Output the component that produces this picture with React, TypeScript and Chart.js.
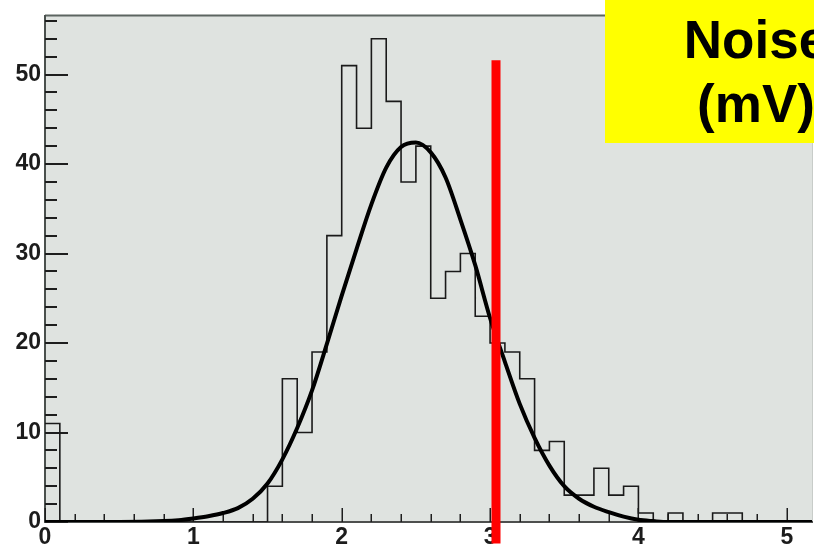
import React, { useEffect, useRef } from "react";
import { Chart, registerables } from "chart.js";

Chart.register(...registerables);

// ---- axis definitions ----
const X_TICKS = [0, 1, 2, 3, 4, 5];
const Y_TICKS = [0, 10, 20, 30, 40, 50];
const X_MIN = 0;
const X_MAX = 5.17;
const Y_MIN = 0;
const Y_MAX = 56.6;
const X_MINOR_STEP = 0.2;
const Y_MINOR_STEP = 2;

// ---- histogram (bin counts, bins of 0.1 mV starting at 0) ----
const HIST_START = 0;
const HIST_BIN_WIDTH = 0.1;
const HIST_COUNTS = [
  11, 0, 0, 0, 0, 0, 0, 0, 0, 0, // 0.0 - 0.9
  0, 0, 0, 0, 0, 4, 16, 10, 19, 32, // 1.0 - 1.9
  51, 44, 54, 47, 38, 42, 25, 28, 30, 23, // 2.0 - 2.9
  20, 19, 16, 8, 9, 3, 3, 6, 3, 4, // 3.0 - 3.9
  1, 0, 1, 0, 0, 1, 1, 0, 0, 0, // 4.0 - 4.9
  0, 0, // 5.0 - 5.1
];

// ---- gaussian fit curve ----
const FIT_X = [
  0, 0.5, 0.8, 0.9, 1.0, 1.1, 1.2, 1.3, 1.4, 1.5, 1.6, 1.7, 1.8, 1.9, 2.0, 2.1, 2.2,
  2.3, 2.4, 2.5, 2.6, 2.7, 2.8, 2.9, 3.0, 3.1, 3.2, 3.3, 3.4, 3.5, 3.6, 3.7, 3.8, 3.9,
  4.0, 4.1, 4.2, 5.17,
];
const FIT_Y = [
  0, 0, 0.1, 0.2, 0.4, 0.65, 1.0, 1.55, 2.6, 4.3, 7.0, 10.5, 14.7, 19.9, 25.3, 30.5, 35.5,
  39.6, 41.9, 42.4, 41.3, 38.5, 33.8, 28.7, 22.8, 17.9, 13.2, 9.4, 6.3, 4.0, 2.6, 1.7, 1.1, 0.6,
  0.25, 0.1, 0, 0,
];

// ---- red cut marker ----
const CUT_VALUE = 3.04;
const CUT_TOP = 51.6;
const CUT_BOTTOM = -2.4;

// ---- note box ----
const NOTE_LINES = ["Noise", "(mV)"];

const FONT_FAMILY = '"Liberation Sans", Arial, Helvetica, sans-serif';

const framePlugin = {
  id: "frame",
  beforeDraw(chart: any) {
    const { ctx, chartArea: a } = chart;
    ctx.save();
    ctx.fillStyle = "#ffffff";
    ctx.fillRect(0, 0, chart.width, chart.height);
    ctx.fillStyle = "#dfe3e0";
    ctx.fillRect(a.left, a.top, a.right - a.left, a.bottom - a.top);
    ctx.strokeStyle = "#5c6561";
    ctx.lineWidth = 2;
    ctx.beginPath();
    ctx.moveTo(a.left, a.top);
    ctx.lineTo(a.right, a.top);
    ctx.stroke();
    ctx.strokeStyle = "#c8ccc9";
    ctx.lineWidth = 1;
    ctx.beginPath();
    ctx.moveTo(a.right + 0.5, a.top);
    ctx.lineTo(a.right + 0.5, a.bottom);
    ctx.stroke();
    ctx.restore();
  },
  beforeDatasetsDraw(chart: any) {
    const { ctx, chartArea: a, scales } = chart;
    const xs = scales.x;
    const ys = scales.y;
    ctx.save();
    ctx.strokeStyle = "#1e1e1e";
    ctx.lineWidth = 2;
    const ny = Math.floor((Y_MAX - Y_MIN) / Y_MINOR_STEP + 1e-6);
    for (let i = 0; i <= ny; i++) {
      const v = Y_MIN + i * Y_MINOR_STEP;
      const major = Y_TICKS.some((t) => Math.abs(t - v) < 1e-6);
      const py = Math.round(ys.getPixelForValue(v));
      ctx.beginPath();
      ctx.moveTo(a.left, py);
      ctx.lineTo(a.left + (major ? 23 : 12), py);
      ctx.stroke();
    }
    ctx.lineWidth = 1.5;
    const nx = Math.floor((X_MAX - X_MIN) / X_MINOR_STEP + 1e-6);
    for (let i = 0; i <= nx; i++) {
      const v = X_MIN + i * X_MINOR_STEP;
      const major = X_TICKS.some((t) => Math.abs(t - v) < 1e-6);
      const px = Math.round(xs.getPixelForValue(v)) + 0.25;
      ctx.beginPath();
      ctx.moveTo(px, a.bottom);
      ctx.lineTo(px, a.bottom - (major ? 14 : 8));
      ctx.stroke();
    }
    ctx.restore();
  },
  afterDraw(chart: any) {
    const { ctx } = chart;
    ctx.save();
    ctx.fillStyle = "#ffff00";
    ctx.fillRect(605, 0, chart.width - 605, 143);
    ctx.fillStyle = "#000000";
    ctx.font = `bold 53px ${FONT_FAMILY}`;
    ctx.textAlign = "center";
    ctx.textBaseline = "alphabetic";
    ctx.fillText(NOTE_LINES[0], 756, 58);
    ctx.fillText(NOTE_LINES[1], 756, 122);
    ctx.restore();
  },
};

export default function App() {
  const canvasRef = useRef<HTMLCanvasElement | null>(null);

  useEffect(() => {
    document.body.style.margin = "0";
    const canvas = canvasRef.current;
    if (!canvas) return;

    const histData = HIST_COUNTS.map((c, i) => ({ x: HIST_START + i * HIST_BIN_WIDTH, y: c }));
    histData.push({
      x: HIST_START + HIST_COUNTS.length * HIST_BIN_WIDTH,
      y: HIST_COUNTS[HIST_COUNTS.length - 1],
    });
    const fitData = FIT_X.map((x, i) => ({ x, y: FIT_Y[i] }));
    const cutData = [
      { x: CUT_VALUE, y: CUT_BOTTOM },
      { x: CUT_VALUE, y: CUT_TOP },
    ];

    const tickFont = { family: FONT_FAMILY, size: 23, weight: "bold" as const, lineHeight: 1 };

    const chart = new Chart(canvas, {
      type: "line",
      data: {
        datasets: [
          {
            label: "cut",
            data: cutData,
            borderColor: "#ff0000",
            borderWidth: 9,
            borderCapStyle: "butt",
            pointRadius: 0,
            fill: false,
            clip: false as any,
          },
          {
            label: "fit",
            data: fitData,
            borderColor: "#000000",
            borderWidth: 4,
            pointRadius: 0,
            fill: false,
            cubicInterpolationMode: "monotone",
            borderCapStyle: "round",
            borderJoinStyle: "round",
          },
          {
            label: "histogram",
            data: histData,
            borderColor: "#1a1a1a",
            borderWidth: 1.6,
            pointRadius: 0,
            fill: false,
            stepped: "before",
          },
        ],
      },
      options: {
        responsive: false,
        maintainAspectRatio: false,
        devicePixelRatio: 1,
        animation: false,
        parsing: false as any,
        normalized: true,
        layout: { padding: { top: 13, right: 2, left: 0, bottom: 0 } },
        plugins: {
          legend: { display: false },
          tooltip: { enabled: false },
          title: { display: false },
        },
        scales: {
          x: {
            type: "linear",
            min: X_MIN,
            max: X_MAX,
            grid: { display: false, drawTicks: false },
            border: { display: true, color: "#4d4f4e", width: 2 },
            ticks: {
              padding: 4,
              color: "#1c1c1c",
              font: tickFont,
              maxRotation: 0,
              autoSkip: false,
              callback: (v: any) => String(v),
            },
            afterBuildTicks: (scale: any) => {
              scale.ticks = X_TICKS.map((v) => ({ value: v }));
            },
            afterFit: (scale: any) => {
              scale.height = 25;
            },
          },
          y: {
            type: "linear",
            min: Y_MIN,
            max: Y_MAX,
            grid: { display: false, drawTicks: false },
            border: { display: true, color: "#4a504d", width: 2 },
            ticks: {
              padding: 4,
              color: "#1c1c1c",
              font: tickFont,
              autoSkip: false,
              callback: (v: any) => String(v),
            },
            afterBuildTicks: (scale: any) => {
              scale.ticks = Y_TICKS.map((v) => ({ value: v }));
            },
            afterFit: (scale: any) => {
              scale.width = 45;
            },
          },
        },
      },
      plugins: [framePlugin],
    });

    return () => {
      chart.destroy();
    };
  }, []);

  return (
    <div style={{ width: 814, height: 547, position: "relative", overflow: "hidden" }}>
      <canvas ref={canvasRef} width={814} height={547} style={{ display: "block", width: 814, height: 547 }} />
    </div>
  );
}
